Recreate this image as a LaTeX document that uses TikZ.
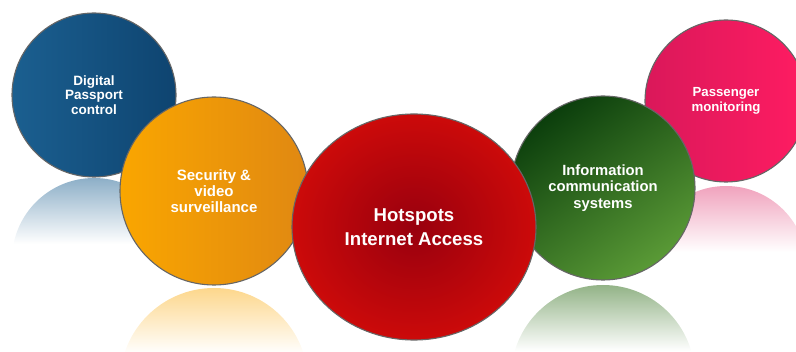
\documentclass[tikz,border=0pt]{standalone}
\usepackage{fontspec}
\setmainfont{Liberation Sans}
\usetikzlibrary{shapes.geometric}

\definecolor{passblue}{HTML}{1B5F90}
\definecolor{passbluedark}{HTML}{0E4470}
\definecolor{secorange}{HTML}{FAA600}
\definecolor{secorangedark}{HTML}{E08812}
\definecolor{hotred}{HTML}{CC0A0A}
\definecolor{hotreddark}{HTML}{98000E}
\definecolor{infogreen}{HTML}{0B3E0C}
\definecolor{infogreenlight}{HTML}{5A9A36}
\definecolor{monpink}{HTML}{DA185A}
\definecolor{monpinklight}{HTML}{FF1C62}

\begin{document}
\begin{tikzpicture}[x=1pt, y=-1pt,
  bubble/.style={circle, draw=black!60, line width=1.1pt, text=white, align=center, inner sep=0pt}]
\useasboundingbox (0,0) rectangle (796,352);
\clip (0,0) rectangle (796,352);

% reflections under the bubbles
\foreach \cx/\ty/\rad/\col in {94/178/82/passblue!50!white, 214/288/94/secorange!45!white,
                               603/285/92/infogreenlight!60!infogreen!55!white, 726/186/81/monpink!40!white}{
  \begin{scope}
    \clip (\cx,\ty+\rad) circle (\rad pt);
    \shade[top color=\col, bottom color=white] (\cx-\rad,\ty) rectangle (\cx+\rad,\ty+66);
  \end{scope}
}

\node[bubble, minimum size=164pt, left color=passblue, right color=passbluedark,
      font=\bfseries\fontsize{13.5}{14.7}\selectfont] (passport) at (94,95) {Digital\\Passport\\control};
\node[bubble, minimum size=188pt, left color=secorange, right color=secorangedark,
      font=\bfseries\fontsize{15}{16.3}\selectfont] (security) at (214,191) {Security \&\\video\\surveillance};
\node[bubble, minimum size=162pt, left color=monpink, right color=monpinklight,
      font=\bfseries\fontsize{13.2}{15.3}\selectfont] (monitoring) at (726,101) {Passenger\\monitoring};
\node[bubble, minimum size=184pt, top color=infogreen, middle color=infogreen!80!infogreenlight,
      bottom color=infogreenlight, shading angle=35,
      font=\bfseries\fontsize{14.8}{16.2}\selectfont] (information) at (603,188) {Information\\communication\\systems};
\node[bubble, ellipse, minimum width=244pt, minimum height=226pt, inner color=hotreddark, outer color=hotred,
      font=\bfseries\fontsize{18.6}{24}\selectfont] (hotspots) at (414,227) {Hotspots\\Internet Access};
\end{tikzpicture}
\end{document}
